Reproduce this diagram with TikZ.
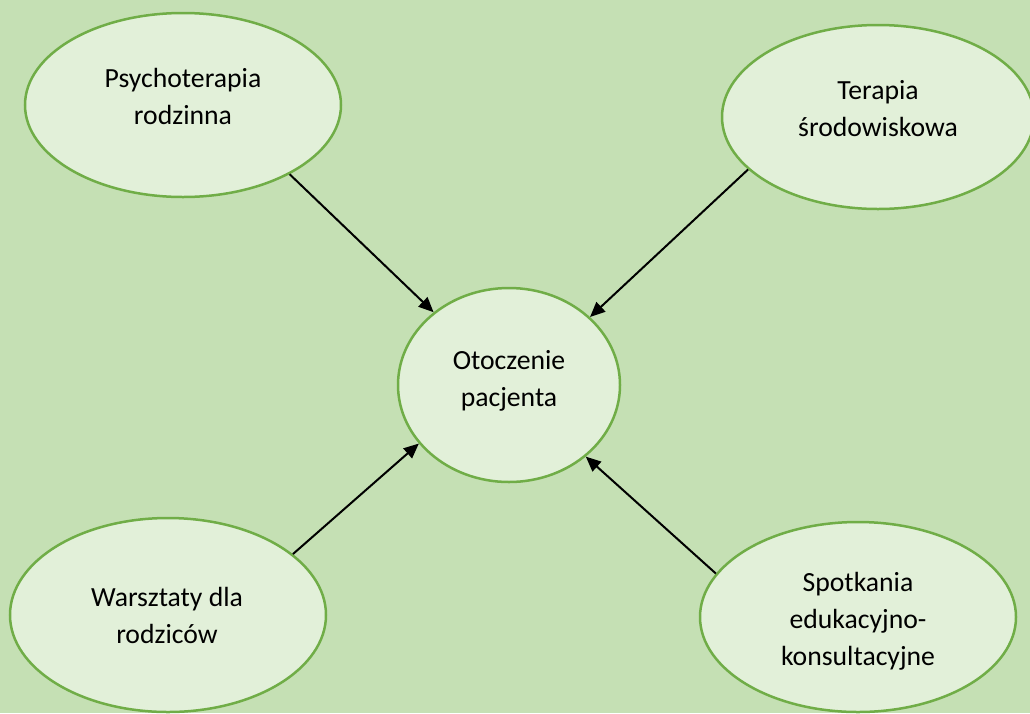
\documentclass[tikz,border=0pt]{standalone}
\usepackage{fontspec}
\setmainfont{Carlito}
\usetikzlibrary{shapes.geometric,arrows.meta}
\definecolor{bggreen}{HTML}{C5E0B4}
\definecolor{fillgreen}{HTML}{E2F0D9}
\definecolor{edgegreen}{HTML}{70AD47}
\tikzset{
  bubble/.style={ellipse, draw=edgegreen, line width=2.5pt, fill=fillgreen, inner sep=0pt},
  lbl/.style={align=center, font=\fontsize{27.7pt}{37pt}\selectfont, text=black, inner sep=0pt},
  arr/.style={-{Triangle[length=15pt,width=13pt]}, line width=2pt, black},
}
\begin{document}
\begin{tikzpicture}[x=1pt,y=-1pt]
\fill[bggreen] (0,0) rectangle (1030,713);
\useasboundingbox (0,0) rectangle (1030,713);
\node[bubble, minimum width=316pt, minimum height=184pt] (p) at (183,105) {};
\node[bubble, minimum width=312pt, minimum height=184pt] (t) at (878,117) {};
\node[bubble, minimum width=222pt, minimum height=194pt] (c) at (509,385) {};
\node[bubble, minimum width=316pt, minimum height=194pt] (w) at (168,615) {};
\node[bubble, minimum width=316pt, minimum height=190pt] (s) at (858,617) {};
\node[lbl] (pt) at (183,96) {Psychoterapia\\rodzinna};
\node[lbl] (tt) at (878,109) {Terapia\\środowiskowa};
\node[lbl] (ct) at (509,381) {Otoczenie\\pacjenta};
\node[lbl] (wt) at (167,615) {Warsztaty dla\\rodziców};
\node[lbl] (st) at (858,621) {Spotkania\\edukacyjno-\\konsultacyjne};
\draw[arr] (p.-33) -- (c.136);
\draw[arr] (t.-158.3) -- (c.40.6);
\draw[arr] (w.26) -- (c.-147.5);
\draw[arr] (s.163) -- (c.-43.2);
\end{tikzpicture}
\end{document}
